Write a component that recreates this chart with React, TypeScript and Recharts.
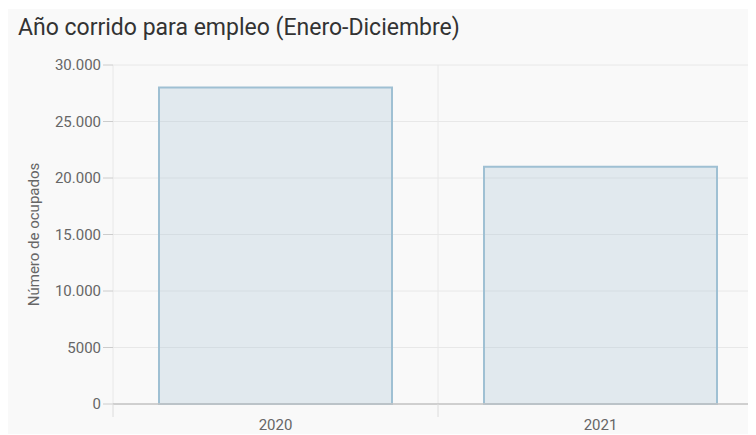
import React from "react";
import { BarChart, Bar, XAxis, YAxis, CartesianGrid, Label } from "recharts";

const categories = ["2020", "2021"];
const ocupados = [28000, 21000];
const yTicks = [0, 5000, 10000, 15000, 20000, 25000, 30000];
const yTickLabels = ["0", "5000", "10.000", "15.000", "20.000", "25.000", "30.000"];

const data = categories.map((c, i) => ({ year: c, value: ocupados[i] }));

const FONT = "Roboto, 'Noto Sans', sans-serif";

const XTick = (props: any) => {
  const { x, y, payload } = props;
  const off = payload.offset || 0;
  return (
    <g>
      <line x1={x - off} x2={x - off} y1={y} y2={y + 13} stroke="#dcdcdc" strokeWidth={1} />
      <text x={x} y={y + 26} textAnchor="middle" fill="#666" fontSize={15} fontFamily={FONT}>
        {payload.value}
      </text>
    </g>
  );
};

const YLabel = (props: any) => {
  const vb = props.viewBox || {};
  const cx = vb.x + 27;
  const cy = vb.y + vb.height / 2;
  return (
    <text
      x={cx}
      y={cy}
      transform={`rotate(-90, ${cx}, ${cy})`}
      textAnchor="middle"
      dominantBaseline="central"
      fill="#666"
      fontSize={15}
      fontFamily={FONT}
    >
      Número de ocupados
    </text>
  );
};

export default function App() {
  return (
    <div style={{ width: 748, height: 427, overflow: "hidden", marginLeft: -1, marginTop: 1 }}>
      <div style={{ position: "relative", width: 770, height: 425, background: "#f9f9f9", fontFamily: FONT }}>
        <div
          style={{
            position: "absolute",
            left: 11,
            top: 7,
            fontSize: 23,
            lineHeight: "23px",
            color: "#333",
            whiteSpace: "nowrap",
          }}
        >
          Año corrido para empleo (Enero-Diciembre)
        </div>
        <BarChart
          width={770}
          height={425}
          data={data}
          margin={{ top: 56, right: 14, left: 0, bottom: 0 }}
          barCategoryGap={46}
        >
          <CartesianGrid
            stroke="#e8e8e8"
            verticalCoordinatesGenerator={({ offset }: any) =>
              categories.map((_, i) => offset.left + (offset.width / categories.length) * i).concat([offset.left + offset.width])
            }
          />
          <XAxis
            dataKey="year"
            height={30}
            tickSize={0}
            tickMargin={0}
            tickLine={false}
            axisLine={{ stroke: "#c4c4c4", strokeWidth: 1.5 }}
            tick={<XTick />}
            interval={0}
          />
          <YAxis
            width={106}
            domain={[0, 30000]}
            ticks={yTicks}
            tickFormatter={(v: number) => yTickLabels[yTicks.indexOf(v)] ?? String(v)}
            axisLine={false}
            tickLine={{ stroke: "#cccccc" }}
            tickSize={10}
            tickMargin={2}
            tick={{ fill: "#666", fontSize: 15, fontFamily: FONT }}
          >
            <Label content={<YLabel />} />
          </YAxis>
          <Bar
            dataKey="value"
            fill="#9cbdd0"
            fillOpacity={0.25}
            stroke="#9fc0d3"
            strokeWidth={2}
            isAnimationActive={false}
          />
        </BarChart>
      </div>
    </div>
  );
}
